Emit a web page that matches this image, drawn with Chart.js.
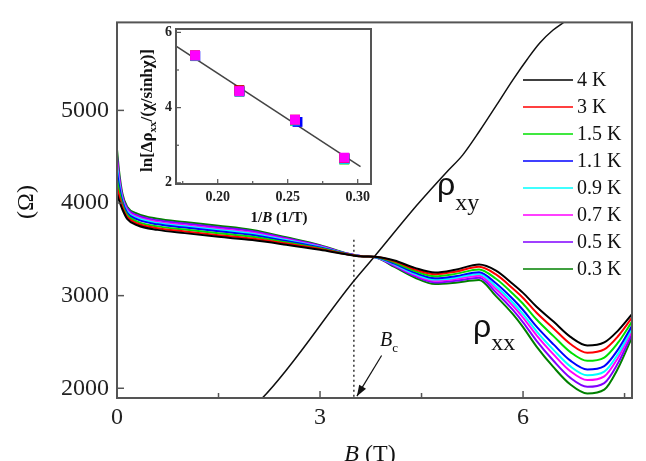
<!DOCTYPE html>
<html lang="en">
<head>
<meta charset="UTF-8">
<title>rho_xx and rho_xy vs B</title>
<script src="https://cdn.jsdelivr.net/npm/chart.js@4"></script>
<style>
  body { margin: 0; background: #fff; }
  #wrap { position: relative; width: 646px; height: 461px; overflow: hidden; }
  #mainChart { position: absolute; left: 0; top: 0; }
  #insetChart { position: absolute; left: 120px; top: 10px; }
</style>
</head>
<body>
<div id="wrap">
  <canvas id="mainChart" width="646" height="461"></canvas>
  <canvas id="insetChart" width="260" height="225"></canvas>
</div>
<script>
// field values (T) where the rho_xx traces were read
var fieldB = [0, 0.03, 0.08, 0.15, 0.3, 0.6, 1.0, 1.5, 2.0, 2.5, 3.0, 3.4, 3.6, 3.85, 4.1, 4.4, 4.7, 5.0, 5.35, 5.6, 5.85, 6.0, 6.2, 6.45, 6.7, 6.95, 7.2, 7.4, 7.61];

// rho_xx (Ohm) for each temperature
var rho4K   = [4100, 4030, 3930, 3830, 3760, 3710, 3675, 3635, 3600, 3550, 3495, 3445, 3425, 3418, 3380, 3300, 3250, 3280, 3336, 3270, 3125, 3030, 2880, 2720, 2555, 2462, 2495, 2620, 2800];
var rho3K   = [4172, 4078, 3956, 3850, 3779, 3728, 3693, 3653, 3617, 3562, 3503, 3447, 3425, 3416, 3370, 3284, 3231, 3259, 3311, 3229, 3076, 2975, 2815, 2646, 2478, 2384, 2419, 2559, 2763];
var rho1_5K = [4254, 4132, 3984, 3872, 3800, 3748, 3713, 3673, 3635, 3576, 3511, 3448, 3425, 3414, 3358, 3266, 3210, 3235, 3283, 3182, 3021, 2912, 2742, 2563, 2390, 2296, 2332, 2489, 2720];
var rho1_1K = [4340, 4190, 4015, 3895, 3823, 3770, 3735, 3695, 3655, 3590, 3520, 3450, 3426, 3412, 3345, 3248, 3188, 3210, 3253, 3133, 2963, 2845, 2665, 2474, 2298, 2203, 2240, 2415, 2675];
var rho0_9K = [4398, 4228, 4035, 3911, 3838, 3784, 3749, 3709, 3668, 3600, 3526, 3451, 3427, 3410, 3337, 3235, 3173, 3193, 3233, 3100, 2924, 2801, 2615, 2415, 2236, 2140, 2179, 2366, 2645];
var rho0_7K = [4446, 4260, 4052, 3924, 3850, 3796, 3761, 3721, 3679, 3608, 3531, 3452, 3427, 3409, 3330, 3224, 3160, 3179, 3216, 3072, 2891, 2764, 2572, 2366, 2184, 2088, 2128, 2325, 2620];
var rho0_5K = [4513, 4305, 4076, 3942, 3868, 3813, 3778, 3738, 3695, 3619, 3538, 3454, 3427, 3407, 3320, 3210, 3143, 3160, 3193, 3034, 2846, 2712, 2512, 2297, 2112, 2016, 2056, 2267, 2585];
var rho0_3K = [4580, 4350, 4100, 3960, 3885, 3830, 3795, 3755, 3710, 3630, 3545, 3455, 3428, 3405, 3310, 3195, 3125, 3140, 3170, 2995, 2800, 2660, 2450, 2228, 2040, 1943, 1985, 2210, 2550];

var tempLabels = ['4 K', '3 K', '1.5 K', '1.1 K', '0.9 K', '0.7 K', '0.5 K', '0.3 K'];
var tempColors = ['#000000', '#ff0000', '#00e000', '#0000ff', '#00ffff', '#ff00ff', '#8000ff', '#008000'];
var rhoXX = [rho4K, rho3K, rho1_5K, rho1_1K, rho0_9K, rho0_7K, rho0_5K, rho0_3K];

// Hall resistance rho_xy
var hallB = [2.05, 2.14, 3.49, 3.79, 4.43, 4.63, 4.88, 5.11, 5.36, 5.62, 5.85, 6.06, 6.25, 6.44, 6.62, 6.8];
var hallR = [1840, 1889, 3150, 3410, 3975, 4140, 4340, 4520, 4780, 5070, 5330, 5550, 5730, 5865, 5960, 6050];

// B_c marker: dotted line and arrow
var bcB = [3.5, 3.5];
var bcR = [1800, 3607];
var arrowB = [3.91, 3.545];
var arrowR = [2354, 1915];

var xTicks = [0, 3, 6];
var xMinor = [1.5, 4.5, 7.5];
var yTicks = [2000, 3000, 4000, 5000];

// inset: ln[d rho_xx / (chi/sinh chi)] vs 1/B
var invB = [0.1838, 0.2154, 0.2552, 0.2904];
var invBBlue = [0.1840, 0.2156, 0.2570, 0.2906];
var lnBlack = [5.38, 4.46, 3.67, 2.66];
var lnRed = [5.39, 4.46, 3.68, 2.66];
var lnGreen = [5.37, 4.43, 3.65, 2.62];
var lnBlue = [5.37, 4.43, 3.62, 2.64];
var lnCyan = [5.38, 4.44, 3.66, 2.64];
var lnMagenta = [5.39, 4.44, 3.68, 2.67];
var fitX = [0.170, 0.302];
var fitY = [5.64, 2.43];

var insetXTicks = [0.20, 0.25, 0.30];
var insetXMinor = [0.175, 0.225, 0.275];
var insetYTicks = [2, 4, 6];
var insetYMinor = [3, 5];

function pts(xs, ys) {
  return xs.map(function (x, i) { return { x: x, y: ys[i] }; });
}

// frame plus inward tick marks
function framePlugin(id, opt) {
  return {
    id: id,
    afterDraw: function (chart) {
      var ctx = chart.ctx, a = chart.chartArea;
      var xs = chart.scales.x, ys = chart.scales.y;
      ctx.save();
      ctx.strokeStyle = opt.color;
      ctx.lineWidth = opt.width;
      ctx.strokeRect(a.left, a.top, a.right - a.left, a.bottom - a.top);
      ctx.lineWidth = opt.tickWidth;
      function xt(v, len) {
        var p = xs.getPixelForValue(v);
        ctx.beginPath(); ctx.moveTo(p, a.bottom); ctx.lineTo(p, a.bottom - len); ctx.stroke();
      }
      function yt(v, len) {
        var p = ys.getPixelForValue(v);
        ctx.beginPath(); ctx.moveTo(a.left, p); ctx.lineTo(a.left + len, p); ctx.stroke();
      }
      opt.xMajor.forEach(function (v) { xt(v, opt.len); });
      opt.xMinor.forEach(function (v) { xt(v, opt.minorLen); });
      opt.yMajor.forEach(function (v) { yt(v, opt.len); });
      opt.yMinor.forEach(function (v) { yt(v, opt.minorLen); });
      ctx.restore();
    }
  };
}

// draw a run of text pieces (for sub/superscripts, italics)
function drawPieces(ctx, pieces, x, y, align) {
  var total = 0;
  pieces.forEach(function (p) { ctx.font = p.font; p.w = ctx.measureText(p.t).width; total += p.w; });
  var cx = align === 'center' ? x - total / 2 : x;
  ctx.textAlign = 'left';
  ctx.textBaseline = 'alphabetic';
  pieces.forEach(function (p) {
    ctx.font = p.font;
    ctx.fillText(p.t, cx, y + (p.dy || 0));
    cx += p.w;
  });
}

var serif = '"Liberation Serif", "Times New Roman", serif';

var mainText = {
  id: 'mainText',
  afterDraw: function (chart) {
    var ctx = chart.ctx;
    ctx.save();
    ctx.fillStyle = '#111';

    // legend
    for (var i = 0; i < tempLabels.length; i++) {
      var ly = 80 + i * 27;
      ctx.strokeStyle = tempColors[i];
      ctx.lineWidth = 1.5;
      ctx.beginPath(); ctx.moveTo(523, ly); ctx.lineTo(573, ly); ctx.stroke();
      ctx.font = '20px ' + serif;
      ctx.textAlign = 'left';
      ctx.textBaseline = 'middle';
      ctx.fillText(tempLabels[i], 577, ly + 1);
    }

    // curve labels
    drawPieces(ctx, [
      { t: '\u03C1', font: '32px "Liberation Sans", Arial, sans-serif' },
      { t: 'xy', font: '24px ' + serif, dy: 15 }
    ], 437, 195, 'left');
    drawPieces(ctx, [
      { t: '\u03C1', font: '32px "Liberation Sans", Arial, sans-serif' },
      { t: 'xx', font: '24px ' + serif, dy: 13 }
    ], 473, 337, 'left');
    drawPieces(ctx, [
      { t: 'B', font: 'italic 20px ' + serif },
      { t: 'c', font: '13px ' + serif, dy: 6 }
    ], 380, 346, 'left');

    // arrow head
    var meta = chart.getDatasetMeta(chart.data.datasets.length - 1);
    var p0 = meta.data[0], p1 = meta.data[1];
    var ang = Math.atan2(p1.y - p0.y, p1.x - p0.x);
    ctx.beginPath();
    ctx.moveTo(p1.x, p1.y);
    ctx.lineTo(p1.x - 11 * Math.cos(ang) + 4 * Math.sin(ang), p1.y - 11 * Math.sin(ang) - 4 * Math.cos(ang));
    ctx.lineTo(p1.x - 11 * Math.cos(ang) - 4 * Math.sin(ang), p1.y - 11 * Math.sin(ang) + 4 * Math.cos(ang));
    ctx.closePath();
    ctx.fill();

    // axis titles
    drawPieces(ctx, [
      { t: 'B', font: 'italic 24px ' + serif },
      { t: ' (T)', font: '24px ' + serif }
    ], 370, 461, 'center');
    ctx.translate(27, 202);
    ctx.rotate(-Math.PI / 2);
    ctx.font = '24px ' + serif;
    ctx.textAlign = 'center';
    ctx.textBaseline = 'middle';
    ctx.fillText('(\u03A9)', 0, 0);
    ctx.restore();
  }
};

var mainSets = rhoXX.map(function (vals, i) {
  return {
    label: tempLabels[i],
    data: pts(fieldB, vals),
    borderColor: tempColors[i],
    borderWidth: 2,
    pointRadius: 0,
    cubicInterpolationMode: 'monotone'
  };
});
mainSets.push({ label: 'rho_xy', data: pts(hallB, hallR), borderColor: '#111', borderWidth: 1.5, pointRadius: 0, cubicInterpolationMode: 'monotone' });
mainSets.push({ label: 'Bc', data: pts(bcB, bcR), borderColor: '#333', borderWidth: 1.5, borderDash: [2, 3], pointRadius: 0 });
mainSets.push({ label: 'arrow', data: pts(arrowB, arrowR), borderColor: '#111', borderWidth: 1.2, pointRadius: 0 });

var tickFont = { family: serif, size: 24 };

new Chart(document.getElementById('mainChart'), {
  type: 'line',
  data: { datasets: mainSets },
  options: {
    responsive: false,
    animation: false,
    devicePixelRatio: 1,
    events: [],
    layout: { padding: { top: 19, right: 14, left: 0, bottom: 0 } },
    plugins: { legend: { display: false }, tooltip: { enabled: false } },
    scales: {
      x: {
        type: 'linear', min: 0, max: 7.61,
        grid: { display: false, drawTicks: false },
        border: { display: false },
        afterBuildTicks: function (s) { s.ticks = xTicks.map(function (v) { return { value: v }; }); },
        afterFit: function (s) { s.height = 63; },
        ticks: { font: tickFont, color: '#222', padding: 5, maxRotation: 0, autoSkip: false,
          callback: function (v) { return String(v); } }
      },
      y: {
        type: 'linear', min: 1895, max: 5950,
        grid: { display: false, drawTicks: false },
        border: { display: false },
        afterBuildTicks: function (s) { s.ticks = yTicks.map(function (v) { return { value: v }; }); },
        afterFit: function (s) { s.width = 117; },
        ticks: { font: tickFont, color: '#222', padding: 8, autoSkip: false,
          callback: function (v) { return String(v); } }
      }
    }
  },
  plugins: [framePlugin('mainFrame', {
    color: '#555', width: 2, tickWidth: 1.5, len: 7, minorLen: 5,
    xMajor: xTicks, xMinor: xMinor, yMajor: yTicks, yMinor: []
  }), mainText]
});

// inset
var insetText = {
  id: 'insetText',
  afterDraw: function (chart) {
    var ctx = chart.ctx, a = chart.chartArea;
    ctx.save();
    ctx.fillStyle = '#111';
    drawPieces(ctx, [
      { t: '1/', font: 'bold 15px ' + serif },
      { t: 'B', font: 'italic bold 15px ' + serif },
      { t: ' (1/T)', font: 'bold 15px ' + serif }
    ], 159, 212, 'center');
    ctx.translate(27, (a.top + a.bottom) / 2 + 4);
    ctx.rotate(-Math.PI / 2);
    drawPieces(ctx, [
      { t: 'ln[\u0394\u03C1', font: 'bold 17px ' + serif },
      { t: 'xx', font: 'bold 11px ' + serif, dy: 4 },
      { t: '/(\u03C7/sinh\u03C7)]', font: 'bold 17px ' + serif }
    ], 0, 5, 'center');
    ctx.restore();
  }
};

function insetSet(xs, ys, color) {
  return {
    data: pts(xs, ys), showLine: false, pointStyle: 'rect', pointRadius: 7,
    backgroundColor: color, borderColor: color, borderWidth: 0
  };
}

var insetFont = { family: serif, size: 14, weight: 'bold' };

new Chart(document.getElementById('insetChart'), {
  type: 'line',
  data: {
    datasets: [
      insetSet(invB, lnMagenta, '#ff00ff'),
      insetSet(invB, lnRed, '#ff0000'),
      insetSet(invB, lnCyan, '#00ffff'),
      insetSet(invBBlue, lnBlue, '#0000ff'),
      insetSet(invB, lnGreen, '#00e000'),
      insetSet(invB, lnBlack, '#000000'),
      { data: pts(fitX, fitY), borderColor: '#444', borderWidth: 1.5, pointRadius: 0 }
    ]
  },
  options: {
    responsive: false,
    animation: false,
    devicePixelRatio: 1,
    events: [],
    layout: { padding: { top: 19, right: 9, left: 0, bottom: 0 } },
    plugins: { legend: { display: false }, tooltip: { enabled: false } },
    scales: {
      x: {
        type: 'linear', min: 0.1702, max: 0.3095,
        grid: { display: false, drawTicks: false },
        border: { display: false },
        afterBuildTicks: function (s) { s.ticks = insetXTicks.map(function (v) { return { value: v }; }); },
        afterFit: function (s) { s.height = 51; },
        ticks: { font: insetFont, color: '#222', padding: 5, maxRotation: 0, autoSkip: false,
          callback: function (v) { return v.toFixed(2); } }
      },
      y: {
        type: 'linear', min: 1.97, max: 6.09,
        grid: { display: false, drawTicks: false },
        border: { display: false },
        afterBuildTicks: function (s) { s.ticks = insetYTicks.map(function (v) { return { value: v }; }); },
        afterFit: function (s) { s.width = 56; },
        ticks: { font: insetFont, color: '#222', padding: 4, autoSkip: false }
      }
    }
  },
  plugins: [framePlugin('insetFrame', {
    color: '#555', width: 2, tickWidth: 1.2, len: 5, minorLen: 3,
    xMajor: insetXTicks, xMinor: insetXMinor, yMajor: insetYTicks, yMinor: insetYMinor
  }), insetText]
});
</script>
</body>
</html>
